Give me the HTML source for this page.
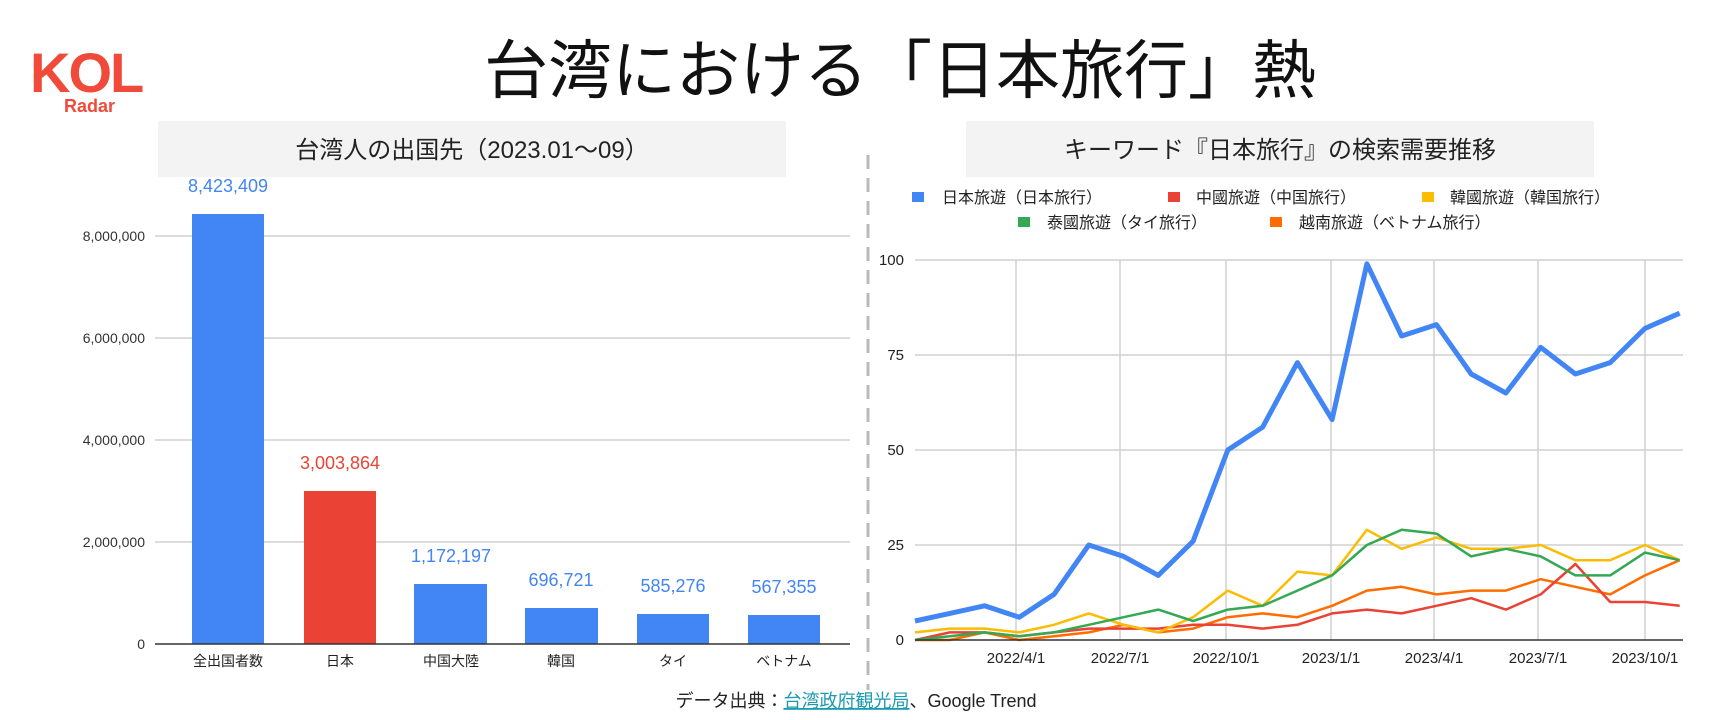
<!DOCTYPE html>
<html><head><meta charset="utf-8"><style>
html,body{margin:0;padding:0;background:#fff;}
svg{display:block;font-family:"Liberation Sans","Noto Sans CJK JP",sans-serif;}
</style></head><body>
<svg id="s" width="1732" height="720" viewBox="0 0 1732 720" xmlns="http://www.w3.org/2000/svg">
<!-- logo -->
<text x="30" y="92" font-size="56" font-weight="bold" fill="#f04a3a" letter-spacing="-2">KOL</text>
<text x="64" y="112" font-size="18" font-weight="bold" fill="#f04a3a">Radar</text>
<!-- title -->
<text x="900" y="93" font-size="64" text-anchor="middle" fill="#111">台湾における「日本旅行」熱</text>
<!-- panel titles -->
<rect x="158" y="121" width="628" height="56" fill="#f3f3f3"/>
<text x="472" y="158" font-size="24" text-anchor="middle" fill="#222">台湾人の出国先（2023.01〜09）</text>
<rect x="966" y="121" width="628" height="56" fill="#f3f3f3"/>
<text x="1280" y="158" font-size="24" text-anchor="middle" fill="#222">キーワード『日本旅行』の検索需要推移</text>
<line x1="868" y1="155" x2="868" y2="690" stroke="#bbb" stroke-width="3" stroke-dasharray="14,9"/>
<!-- left chart grid -->
<g stroke="#d0d0d0" stroke-width="1.5">
<line x1="155" y1="236" x2="850" y2="236"/>
<line x1="155" y1="338" x2="850" y2="338"/>
<line x1="155" y1="440" x2="850" y2="440"/>
<line x1="155" y1="542" x2="850" y2="542"/>
</g>
<g font-size="14" fill="#333" text-anchor="end">
<text x="145" y="241">8,000,000</text>
<text x="145" y="343">6,000,000</text>
<text x="145" y="445">4,000,000</text>
<text x="145" y="547">2,000,000</text>
<text x="145" y="649">0</text>
</g>
<g fill="#4285f4">
<rect x="192" y="214" width="72" height="430"/>
<rect x="304" y="491" width="72" height="153" fill="#ea4335"/>
<rect x="414" y="584" width="73" height="60"/>
<rect x="525" y="608" width="73" height="36"/>
<rect x="637" y="614" width="72" height="30"/>
<rect x="748" y="615" width="72" height="29"/>
</g>
<line x1="155" y1="644" x2="850" y2="644" stroke="#333" stroke-width="1.5"/>
<g font-size="18" fill="#4285f4" text-anchor="middle">
<text x="228" y="192">8,423,409</text>
<text x="340" y="469" fill="#ea4335">3,003,864</text>
<text x="451" y="562">1,172,197</text>
<text x="561" y="586">696,721</text>
<text x="673" y="592">585,276</text>
<text x="784" y="593">567,355</text>
</g>
<g font-size="14" fill="#222" text-anchor="middle">
<text x="228" y="666">全出国者数</text>
<text x="340" y="666">日本</text>
<text x="451" y="666">中国大陸</text>
<text x="561" y="666">韓国</text>
<text x="673" y="666">タイ</text>
<text x="784" y="666">ベトナム</text>
</g>
<!-- right chart -->
<g id="rg" stroke="#d0d0d0" stroke-width="1.5"></g>
<g font-size="15" fill="#222" text-anchor="end">
<text x="904" y="265">100</text>
<text x="904" y="360">75</text>
<text x="904" y="455">50</text>
<text x="904" y="550">25</text>
<text x="904" y="645">0</text>
</g>
<g font-size="15" fill="#222" text-anchor="middle">
<text x="1016" y="663">2022/4/1</text>
<text x="1120" y="663">2022/7/1</text>
<text x="1226" y="663">2022/10/1</text>
<text x="1331" y="663">2023/1/1</text>
<text x="1434" y="663">2023/4/1</text>
<text x="1538" y="663">2023/7/1</text>
<text x="1645" y="663">2023/10/1</text>
</g>
<g id="lines" fill="none" stroke-linejoin="round"></g>
<line x1="915" y1="640" x2="1683" y2="640" stroke="#333" stroke-width="1.5"/>
<!-- legend -->
<g font-size="16" fill="#222">
<rect x="912" y="192" width="12" height="10" fill="#4285f4"/><text x="942" y="203">日本旅遊（日本旅行）</text>
<rect x="1168" y="192" width="12" height="10" fill="#ea4335"/><text x="1196" y="203">中國旅遊（中国旅行）</text>
<rect x="1422" y="192" width="12" height="10" fill="#fbbc04"/><text x="1450" y="203">韓國旅遊（韓国旅行）</text>
<rect x="1018" y="217" width="12" height="10" fill="#34a853"/><text x="1047" y="228">泰國旅遊（タイ旅行）</text>
<rect x="1270" y="217" width="12" height="10" fill="#ff6d01"/><text x="1299" y="228">越南旅遊（ベトナム旅行）</text>
</g>
<!-- footer -->
<text x="856" y="707" font-size="18" fill="#222" text-anchor="middle">データ出典：<tspan fill="#1a9bb0" text-decoration="underline">台湾政府観光局</tspan>、Google Trend</text>
</svg>
<script>
var ns="http://www.w3.org/2000/svg";
var rg=document.getElementById("rg");
function L(p,x1,y1,x2,y2){var l=document.createElementNS(ns,"line");l.setAttribute("x1",x1);l.setAttribute("y1",y1);l.setAttribute("x2",x2);l.setAttribute("y2",y2);p.appendChild(l);}
[260,355,450,545].forEach(function(y){L(rg,915,y,1683,y);});
[1016,1120,1226,1331,1434,1538,1645].forEach(function(x){L(rg,x,260,x,640);});
var data=[
["#ff6d01",2.5,[0,0,2,0,1,2,4,2,3,6,7,6,9,13,14,12,13,13,16,14,12,17,21]],
["#ea4335",2.5,[0,2,2,1,2,3,3,3,4,4,3,4,7,8,7,9,11,8,12,20,10,10,9]],
["#fbbc04",2.5,[2,3,3,2,4,7,4,2,6,13,9,18,17,29,24,27,24,24,25,21,21,25,21]],
["#34a853",2.5,[0,1,2,1,2,4,6,8,5,8,9,13,17,25,29,28,22,24,22,17,17,23,21]],
["#4285f4",5,[5,7,9,6,12,25,22,17,26,50,56,73,58,99,80,83,70,65,77,70,73,82,86]]];
var g=document.getElementById("lines");
data.forEach(function(d){var pts=d[2].map(function(v,i){return (915+i*34.76).toFixed(1)+","+(640-v*3.8).toFixed(1);}).join(" ");
var p=document.createElementNS(ns,"polyline");p.setAttribute("points",pts);p.setAttribute("stroke",d[0]);p.setAttribute("stroke-width",d[1]);g.appendChild(p);});
</script>
</body></html>
